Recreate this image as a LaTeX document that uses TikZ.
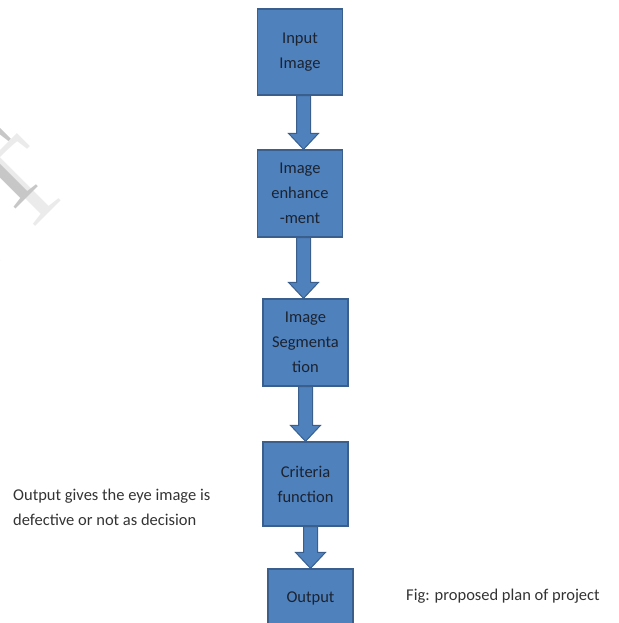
\documentclass[tikz,border=0pt]{standalone}
\usepackage{fontspec}
\setmainfont{Carlito}
\newfontfamily\wmfont{Liberation Serif}
\usetikzlibrary{calc,backgrounds}
\definecolor{boxfill}{HTML}{4F81BD}
\definecolor{boxline}{HTML}{3A5F8C}
\definecolor{boxtext}{HTML}{1C2330}
\newcommand\blockarr[3]{%
  \fill[boxfill, draw=boxline, line width=1pt] let \p1=(#1.south), \p2=(#2.north) in
    (\x2+#3pt-7pt,\y1) -- (\x2+#3pt+7pt,\y1) -- (\x2+#3pt+7pt,\y2+16pt) -- (\x2+#3pt+15pt,\y2+16pt)
    -- (\x2+#3pt,\y2) -- (\x2+#3pt-15pt,\y2+16pt) -- (\x2+#3pt-7pt,\y2+16pt) -- cycle;}
\begin{document}
\begin{tikzpicture}[x=1pt,y=-1pt,
  stepbox/.style={draw=boxline, line width=1.3pt, fill=boxfill, minimum width=85pt,
    minimum height=86pt, align=center, inner sep=0pt, text=boxtext,
    font=\fontsize{16.5}{25}\selectfont},
  plaintext/.style={align=left, inner sep=0pt, text=black!80, font=\fontsize{16.5}{25}\selectfont},
  watermark/.style={inner sep=0pt, anchor=base east, rotate=45}]
\useasboundingbox (0,0) rectangle (618,623);
\clip (0,0) rectangle (618,623);
% faint watermark fragments (cut off at the left edge)
\node[watermark, text=black!8, font=\wmfont\fontsize{120}{120}\selectfont] (wm2) at (74,188) {PT};
\node[watermark, text=black!22, font=\wmfont\fontsize{105}{105}\selectfont] (wm1) at (50,175) {PT};
% boxes
\node[stepbox] (input) at (300,52) {Input\\Image};
\node[stepbox, minimum height=87pt] (enh) at (300,193.5) {Image\\enhance\\-ment};
\node[stepbox, minimum height=87pt] (seg) at (305.5,342.5) {Image\\Segmenta\\tion};
\node[stepbox, minimum height=84pt] (crit) at (305.5,484) {Criteria\\function};
\node[stepbox, minimum height=58pt] (out) at (310.5,598) {Output};
% block arrows
\begin{scope}[on background layer]
\blockarr{input}{enh}{3.5}
\blockarr{enh}{seg}{-2}
\blockarr{seg}{crit}{0}
\blockarr{crit}{out}{0}
\end{scope}
% side texts
\node[plaintext, anchor=west] (note) at (13,507.5) {Output gives the eye image is\\defective or not as decision};
\node[plaintext, anchor=west] (cap) at (406,596) {Fig: proposed plan of project};
\end{tikzpicture}
\end{document}
